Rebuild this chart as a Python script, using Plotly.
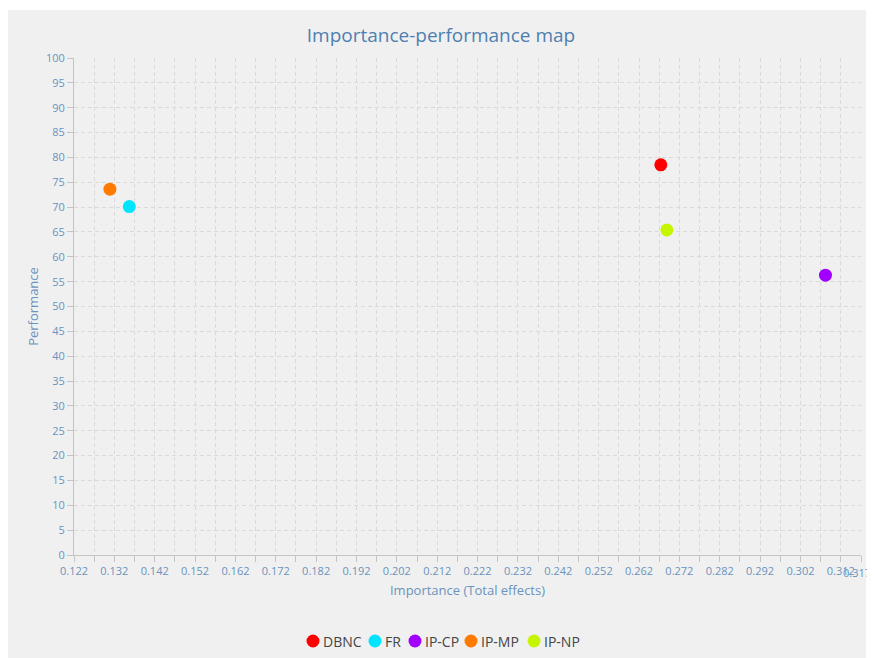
import plotly.graph_objects as go

# ---- data ----
series_names = ["DBNC", "FR", "IP-CP", "IP-MP", "IP-NP"]
importance = [0.2674, 0.1357, 0.3082, 0.1309, 0.2689]
performance = [78.5, 70.1, 56.3, 73.6, 65.4]
series_colors = ["#ff0000", "#00e5ff", "#a100ff", "#ff7b00", "#c6f500"]

x_tick_vals = [0.122, 0.132, 0.142, 0.152, 0.162, 0.172, 0.182, 0.192, 0.202, 0.212,
               0.222, 0.232, 0.242, 0.252, 0.262, 0.272, 0.282, 0.292, 0.302, 0.312, 0.317]
x_tick_text = ["0.122", "0.132", "0.142", "0.152", "0.162", "0.172", "0.182", "0.192", "0.202", "0.212",
               "0.222", "0.232", "0.242", "0.252", "0.262", "0.272", "0.282", "0.292", "0.302", "0.312", "0.317"]
y_tick_vals = list(range(0, 101, 5))

FONT = "Open Sans, Noto Sans, sans-serif"
TITLE_C = "#4f7fb0"
TICK_C = "#6a93bd"
GRID_C = "#dadada"
AXIS_C = "#c4c4c4"
DASH = "4px,3px"

fig = go.Figure()
for name, x, y, c in zip(series_names, importance, performance, series_colors):
    fig.add_trace(go.Scatter(x=[x], y=[y], mode="markers", name=name, showlegend=False,
                             marker=dict(color=c, size=13, line=dict(width=0))))

# the page body has an 8px margin, so the figure starts at (8, 8)
OFF = 8
W, H = 875 - OFF, 658 - OFF
L, R, T, B = 74 - OFF, 875 - 861, 58 - OFF, 658 - 555
pw, ph = W - L - R, H - T - B

def px_to_paper_x(px):
    return (px - OFF - L) / pw

def px_to_paper_y(py):
    return (H - B - (py - OFF)) / ph

# grey panel
fig.add_shape(type="rect", xref="paper", yref="paper", layer="below",
              x0=px_to_paper_x(7), x1=px_to_paper_x(866),
              y0=px_to_paper_y(660), y1=px_to_paper_y(10),
              fillcolor="#f0f0f0", line=dict(width=0))

# legend (layout positions of each entry, in page pixels)
legend_cx = [313, 375, 415, 471, 534]
legend_cy = 641
rad = 6.5
for name, c, cx in zip(series_names, series_colors, legend_cx):
    fig.add_shape(type="circle", xref="paper", yref="paper",
                  x0=px_to_paper_x(cx - rad), x1=px_to_paper_x(cx + rad),
                  y0=px_to_paper_y(legend_cy + rad), y1=px_to_paper_y(legend_cy - rad),
                  fillcolor=c, line=dict(width=0))
    fig.add_annotation(text=name, xref="paper", yref="paper",
                       x=px_to_paper_x(cx + 8), y=px_to_paper_y(legend_cy),
                       xanchor="left", yanchor="middle", showarrow=False,
                       font=dict(family=FONT, size=14, color="#444444"))

# last tick label is nudged left (as in the original) so it stays in the window
fig.add_annotation(text=x_tick_text[-1], xref="x", yref="paper",
                   x=x_tick_vals[-1], y=0, xanchor="right", yanchor="middle",
                   xshift=12, yshift=-17, showarrow=False,
                   font=dict(family=FONT, size=11, color=TICK_C))

fig.update_layout(
    width=W, height=H,
    margin=dict(l=L, r=R, t=T, b=B),
    paper_bgcolor="white", plot_bgcolor="rgba(0,0,0,0)",
    font=dict(family=FONT, color=TICK_C),
    title=dict(text="Importance-performance map", x=(441 - OFF) / W, xref="container", xanchor="center",
               y=1 - (35 - OFF) / H, yref="container", yanchor="middle",
               font=dict(size=19, color=TITLE_C, family=FONT)),
    showlegend=False,
    xaxis=dict(range=[0.1219999, 0.3170001], tickvals=x_tick_vals[:-1], ticktext=x_tick_text[:-1],
               ticks="outside", ticklen=6, tickcolor=AXIS_C,
               tickangle=0, automargin=False,
               showline=True, linecolor=AXIS_C, linewidth=1,
               showgrid=True, gridcolor=GRID_C, griddash=DASH, gridwidth=1,
               minor=dict(tick0=0.122, dtick=0.005, ticks="outside", ticklen=6, tickcolor=AXIS_C,
                          showgrid=True, gridcolor=GRID_C, griddash=DASH),
               zeroline=False, tickfont=dict(size=11, color=TICK_C),
               title=dict(text="Importance (Total effects)", standoff=8,
                          font=dict(size=13, color=TICK_C))),
    yaxis=dict(range=[0, 100], tickvals=y_tick_vals, automargin=False,
               ticks="outside", ticklen=6, tickcolor=AXIS_C,
               showline=True, linecolor=AXIS_C, linewidth=1,
               showgrid=True, gridcolor=GRID_C, griddash=DASH, gridwidth=1,
               zeroline=False, tickfont=dict(size=11, color=TICK_C),
               title=dict(text="Performance", standoff=4,
                          font=dict(size=13, color=TICK_C))),
)

fig.write_html("out.html")
